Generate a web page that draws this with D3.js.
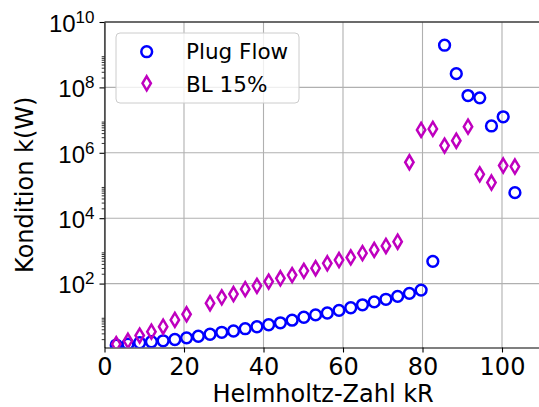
<!DOCTYPE html>
<html>
<head>
<meta charset="utf-8">
<script src="https://cdn.jsdelivr.net/npm/d3@7"></script>
<style>
  html, body { margin: 0; padding: 0; background: #fff; }
  svg { display: block; font-family: "DejaVu Sans", sans-serif; }
</style>
</head>
<body>
<svg id="chart" width="539" height="407"></svg>
<script>
// ---- data ----
const kR = [2.95, 5.9, 8.85, 11.8, 14.75, 17.7, 20.65, 23.6, 26.55, 29.5,
            32.45, 35.4, 38.35, 41.3, 44.25, 47.2, 50.15, 53.1, 56.05, 59.0,
            61.95, 64.9, 67.85, 70.8, 73.75, 76.7, 79.65, 82.6, 85.55, 88.5,
            91.45, 94.4, 97.35, 100.3, 103.25];
const plugFlow = [1.32, 1.41, 1.55, 1.66, 1.78, 1.95, 2.19, 2.45, 2.82, 3.24,
                  3.55, 4.17, 4.79, 5.50, 6.31, 7.59, 9.33, 11.0, 12.6, 15.1,
                  18.2, 22.4, 27.5, 33.1, 40.7, 50.1, 63.1, 479, 1.95e9, 2.63e8,
                  5.62e7, 4.79e7, 6.61e6, 1.26e7, 6.03e4];
// BL 15% has no point at the 8th kR value (null)
const bl15 = [1.41, 1.78, 2.57, 3.39, 4.79, 7.76, 11.5, null, 25.1, 38.0,
              47.9, 67.6, 85.1, 115, 145, 182, 245, 295, 417, 525,
              631, 851, 1072, 1413, 1905, 5.13e5, 5.01e6, 5.37e6, 1.66e6, 2.34e6,
              6.31e6, 2.19e5, 1.23e5, 4.07e5, 3.80e5];
const seriesNames = ["Plug Flow", "BL 15%"];
const xTicks = [0, 20, 40, 60, 80, 100];
const yTickExps = [2, 4, 6, 8, 10];
const yMinorExps = [0, 2, 4, 6, 8];
const yMinorSubs = [2, 3, 4, 5, 6, 7, 8, 9];
const xLabel = "Helmholtz-Zahl kR";
const yLabel = "Kondition k(W)";

// ---- layout ----
const svg = d3.select("#chart");
const L = 104.5, T = 22, B = 347.5;
const x = d3.scaleLinear().domain([0, 110]).range([L, L + 110 * 3.975]);
const y = d3.scaleLog().domain([Math.pow(10, 0.045), 1e10]).range([B, T]);
const R = x.range()[1];
const blue = "#0000ff", mag = "#bf00bf", grid = "#b0b0b0";

svg.append("defs").append("clipPath").attr("id", "clip")
  .append("rect").attr("x", L).attr("y", T).attr("width", R - L).attr("height", B - T);

// grid
const g = svg.append("g");
g.selectAll(".gx").data(xTicks).join("line")
  .attr("x1", d => x(d)).attr("x2", d => x(d)).attr("y1", T).attr("y2", B)
  .attr("stroke", grid).attr("stroke-width", 1.1);
g.selectAll(".gy").data(yTickExps).join("line")
  .attr("x1", L).attr("x2", R).attr("y1", d => y(Math.pow(10, d))).attr("y2", d => y(Math.pow(10, d)))
  .attr("stroke", grid).attr("stroke-width", 1.1);

// x axis
const xAxis = svg.append("g").attr("transform", `translate(0,${B})`)
  .call(d3.axisBottom(x).tickValues(xTicks).tickSize(5).tickSizeOuter(0).tickPadding(5).tickFormat(d3.format("d")));
xAxis.select(".domain").attr("stroke", "#000").attr("stroke-width", 1.1);
xAxis.selectAll(".tick line").attr("stroke", "#000").attr("stroke-width", 1.1);
xAxis.selectAll(".tick text").attr("font-size", 24).attr("font-family", "DejaVu Sans")
  .attr("fill", "#000").attr("dy", null).attr("y", 27.5);

// y axis
const yMajor = yTickExps.map(e => Math.pow(10, e));
const yAxis = svg.append("g").attr("transform", `translate(${L},0)`)
  .call(d3.axisLeft(y).tickValues(yMajor).tickSize(5).tickSizeOuter(0).tickFormat(() => ""));
yAxis.select(".domain").attr("stroke", "#000").attr("stroke-width", 1.1);
yAxis.selectAll(".tick line").attr("stroke", "#000").attr("stroke-width", 1.1);
yAxis.selectAll(".tick text").each(function(d, i) {
  const t = d3.select(this).attr("x", -10).attr("dy", null).attr("y", 9.3)
    .attr("text-anchor", "end").attr("font-size", 24).attr("fill", "#000").text(null);
  t.append("tspan").text("10");
  t.append("tspan").attr("font-size", 17).attr("dy", -9).text(String(yTickExps[i]));
});
// minor ticks
const minorVals = [];
yMinorExps.forEach(e => yMinorSubs.forEach(s => minorVals.push(s * Math.pow(10, e))));
const yMinorAxis = svg.append("g").attr("transform", `translate(${L},0)`)
  .call(d3.axisLeft(y).tickValues(minorVals.filter(v => v >= y.domain()[0] && v <= 1e10))
    .tickSize(2.8).tickSizeOuter(0).tickFormat(() => ""));
yMinorAxis.select(".domain").remove();
yMinorAxis.selectAll(".tick line").attr("stroke", "#000").attr("stroke-width", 0.8);

// top spine
svg.append("line").attr("x1", L).attr("x2", R).attr("y1", T).attr("y2", T)
  .attr("stroke", "#000").attr("stroke-width", 1.1);

// markers
const diamond = (h, w) => `M0,${-h}L${w},0L0,${h}L${-w},0Z`;
const plot = svg.append("g").attr("clip-path", "url(#clip)");
plot.selectAll(".pf").data(kR.map((k, i) => [k, plugFlow[i]])).join("circle")
  .attr("cx", d => x(d[0])).attr("cy", d => y(d[1])).attr("r", 5.4)
  .attr("fill", "none").attr("stroke", blue).attr("stroke-width", 2.5);
plot.selectAll(".bl").data(kR.map((k, i) => [k, bl15[i]]).filter(d => d[1] !== null)).join("path")
  .attr("transform", d => `translate(${x(d[0])},${y(d[1])})`)
  .attr("d", diamond(7, 4.2))
  .attr("fill", "none").attr("stroke", mag).attr("stroke-width", 2.5);

// axis labels
svg.append("text").attr("x", (L + R) / 2).attr("y", 402).attr("text-anchor", "middle")
  .attr("font-size", 24).attr("fill", "#000").text(xLabel);
svg.append("text").attr("transform", `translate(33,${(T + B) / 2}) rotate(-90)`)
  .attr("text-anchor", "middle").attr("font-size", 24).attr("fill", "#000").text(yLabel);

// legend
const lg = svg.append("g");
lg.append("rect").attr("x", 116).attr("y", 33).attr("width", 183).attr("height", 70).attr("rx", 4)
  .attr("fill", "#fff").attr("fill-opacity", 0.8).attr("stroke", "#cccccc").attr("stroke-width", 1);
lg.append("circle").attr("cx", 146.7).attr("cy", 51.7).attr("r", 5.4)
  .attr("fill", "none").attr("stroke", blue).attr("stroke-width", 2.5);
lg.append("path").attr("transform", "translate(146.7,83.3)").attr("d", diamond(7, 4.2))
  .attr("fill", "none").attr("stroke", mag).attr("stroke-width", 2.5);
lg.selectAll(".lt").data(seriesNames).join("text")
  .attr("x", 186).attr("y", (d, i) => i === 0 ? 59.3 : 91.7)
  .attr("font-size", 21.5).attr("fill", "#000").text(d => d);
</script>
</body>
</html>
